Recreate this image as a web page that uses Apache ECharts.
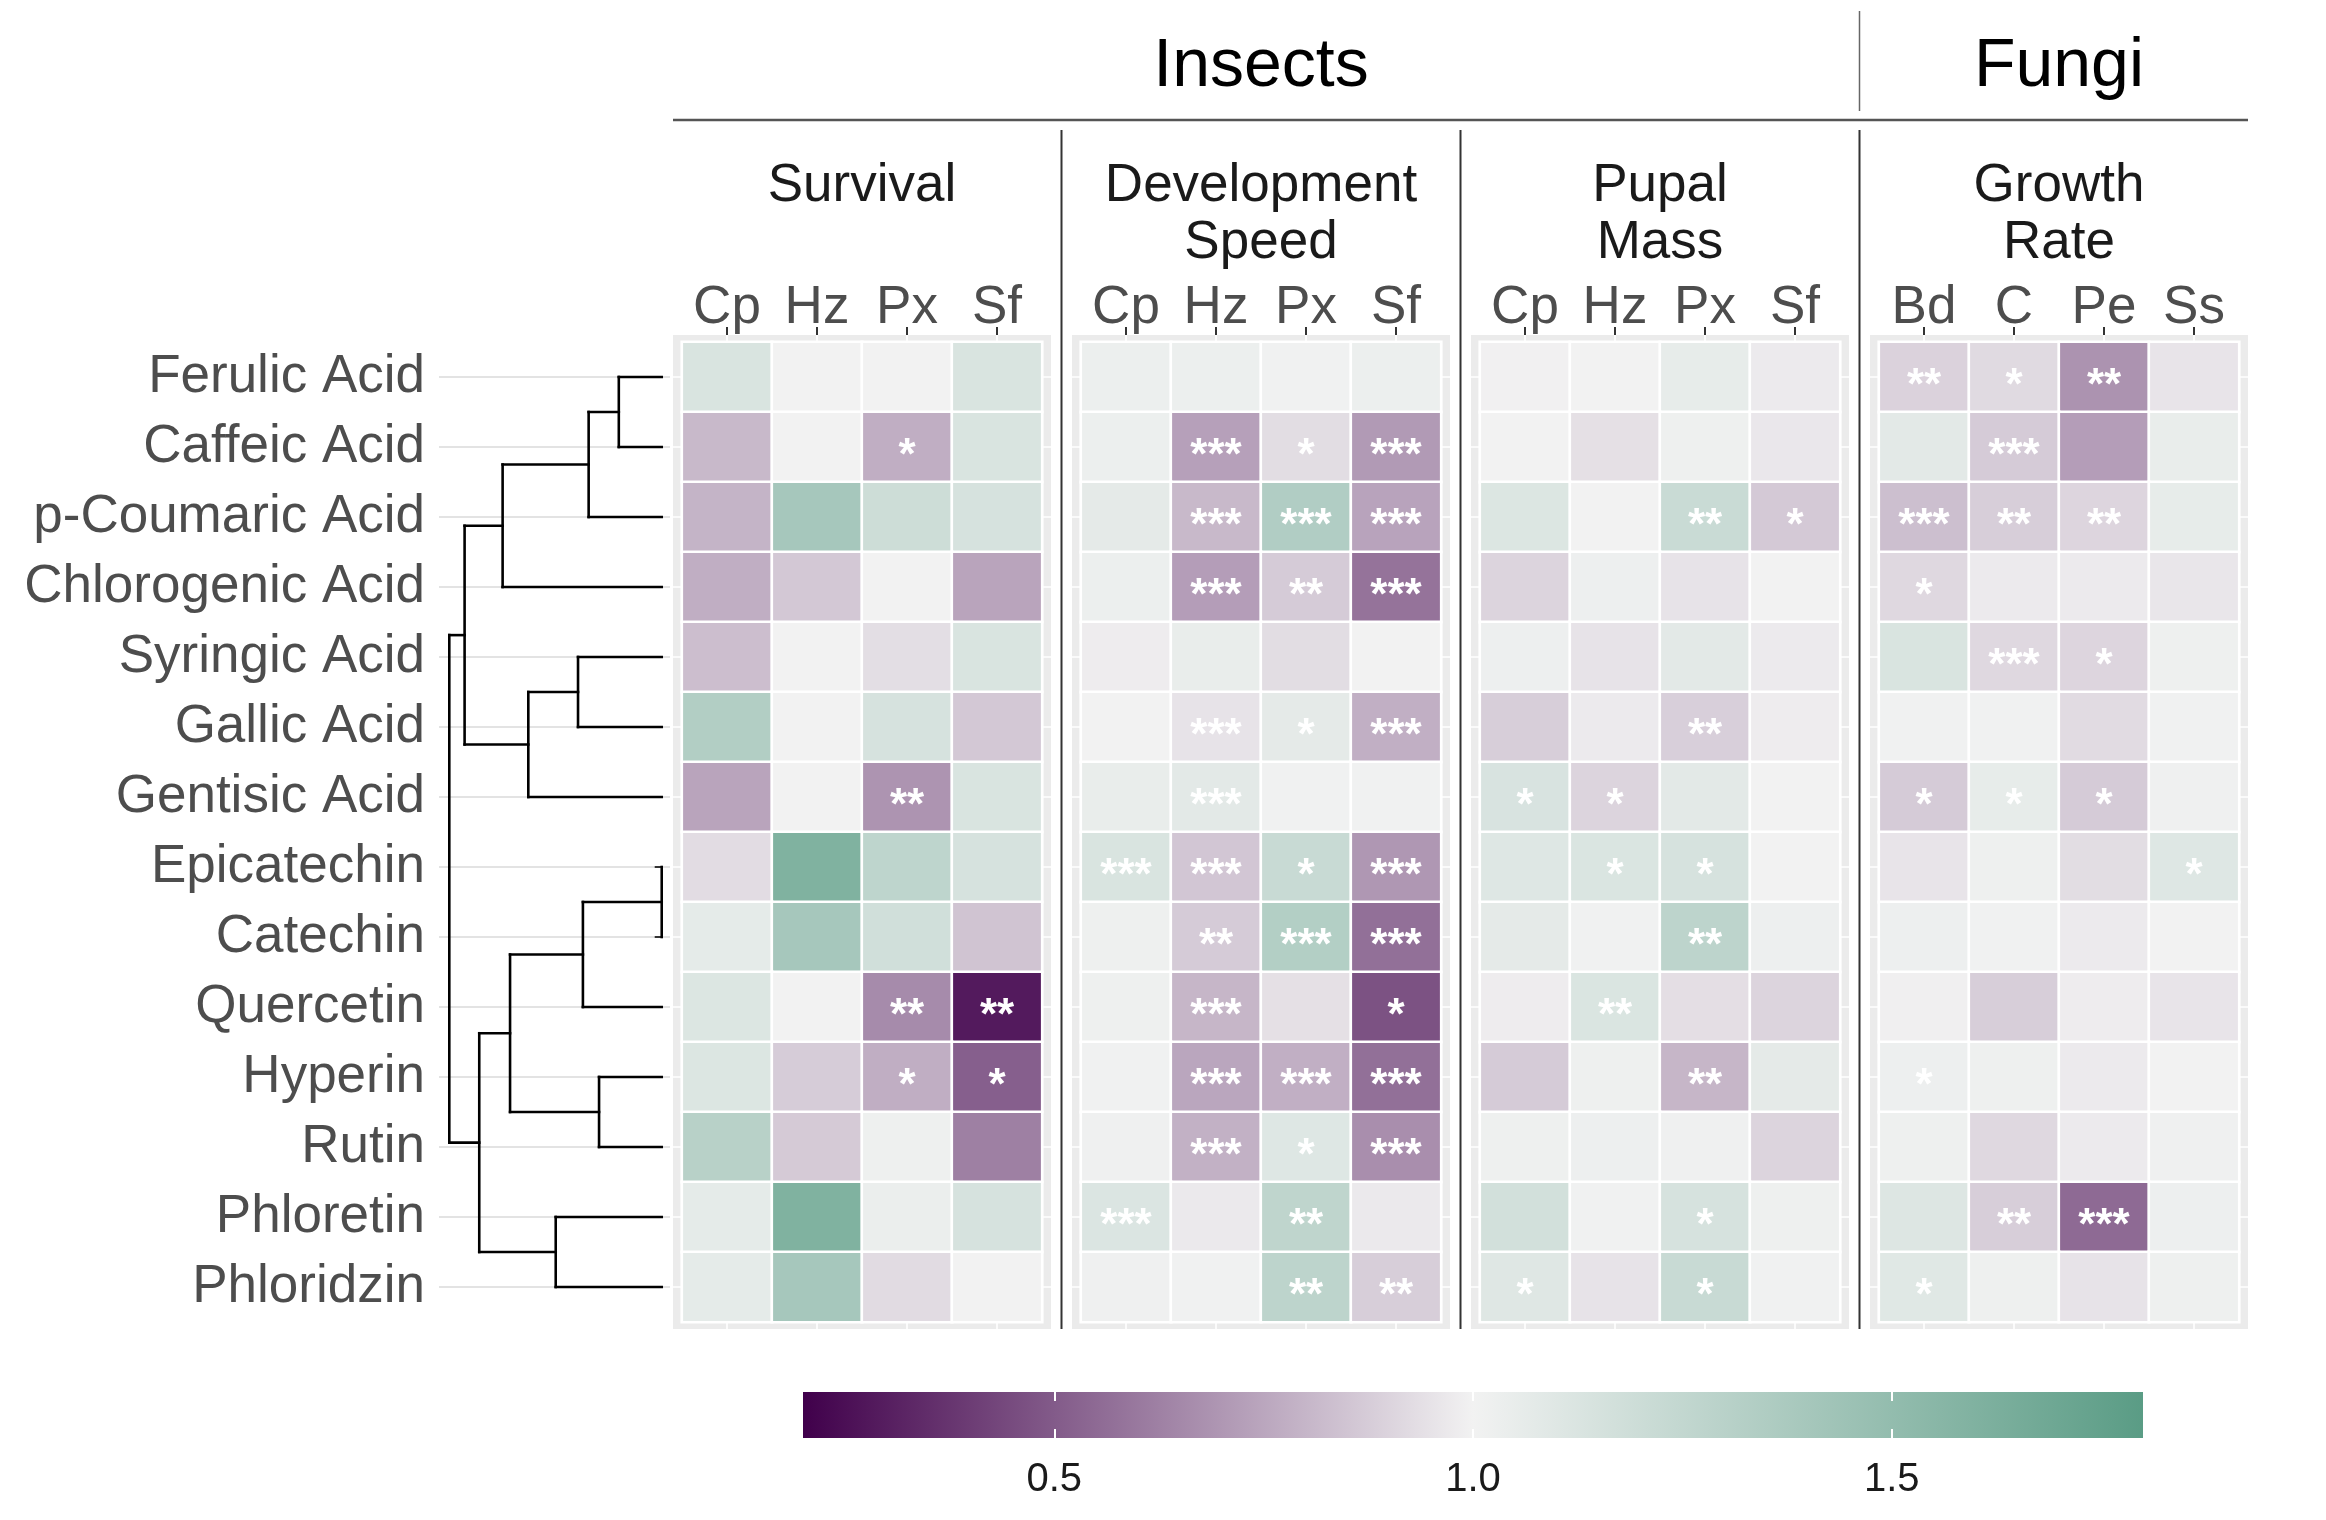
<!DOCTYPE html>
<html><head><meta charset="utf-8">
<script src="https://cdn.jsdelivr.net/npm/echarts@6/dist/echarts.min.js"></script>
<style>html,body{margin:0;padding:0;background:#fff}#c{width:2326px;height:1520px}</style>
</head><body><div id="c"></div>
<script>
// ---------------- DATA ----------------
const compounds = ['Ferulic Acid','Caffeic Acid','p-Coumaric Acid','Chlorogenic Acid','Syringic Acid','Gallic Acid','Gentisic Acid','Epicatechin','Catechin','Quercetin','Hyperin','Rutin','Phloretin','Phloridzin'];
const groupTitles = ['Insects','Fungi'];
const panelTitles = [['Survival'],['Development','Speed'],['Pupal','Mass'],['Growth','Rate']];
const insectSpecies = ['Cp','Hz','Px','Sf'];
const fungiSpecies = ['Bd','C','Pe','Ss'];
const colorbarTicks = [0.5, 1.0, 1.5];
const colorScaleMin = 0.2, colorScaleMax = 1.8;
const colorScale = ['#40004B', '#F2F2F2', '#5A9C85'];

const survival = [
  [1.13, 1.00, 1.00, 1.13],
  [0.81, 1.00, 0.775, 1.13],
  [0.795, 1.40, 1.195, 1.147],
  [0.775, 0.861, 1.00, 0.742],
  [0.828, 1.00, 0.934, 1.13],
  [1.337, 1.00, 1.147, 0.861],
  [0.742, 1.00, 0.689, 1.13],
  [0.927, 1.60, 1.274, 1.147],
  [1.068, 1.40, 1.179, 0.848],
  [1.116, 1.00, 0.659, 0.286],
  [1.116, 0.874, 0.775, 0.514],
  [1.305, 0.868, 1.02, 0.623],
  [1.068, 1.60, 1.037, 1.147],
  [1.068, 1.40, 0.924, 1.00]
];
const survivalStars = [
  ['','','',''],['','','*',''],['','','',''],['','','',''],['','','',''],['','','',''],['','','**',''],
  ['','','',''],['','','',''],['','','**','**'],['','','*','*'],['','','',''],['','','',''],['','','','']
];
const devSpeed = [
  [1.03, 1.03, 1.01, 1.03],
  [1.03, 0.73, 0.93, 0.71],
  [1.07, 0.81, 1.34, 0.74],
  [1.03, 0.72, 0.87, 0.58],
  [0.98, 1.05, 0.93, 1.00],
  [1.00, 0.95, 1.07, 0.78],
  [1.05, 1.08, 1.01, 1.01],
  [1.13, 0.855, 1.22, 0.70],
  [1.02, 0.87, 1.33, 0.57],
  [1.02, 0.80, 0.94, 0.47],
  [1.01, 0.75, 0.78, 0.57],
  [1.015, 0.785, 1.105, 0.67],
  [1.12, 0.97, 1.27, 0.97],
  [1.015, 1.01, 1.28, 0.88]
];
const devSpeedStars = [
  ['','','',''],['','***','*','***'],['','***','***','***'],['','***','**','***'],['','','',''],
  ['','***','*','***'],['','***','',''],['***','***','*','***'],['','**','***','***'],['','***','','*'],
  ['','***','***','***'],['','***','*','***'],['***','','**',''],['','','**','**']
];
const pupalMass = [
  [0.995, 1.00, 1.06, 0.975],
  [1.00, 0.94, 1.02, 0.965],
  [1.115, 1.00, 1.215, 0.865],
  [0.90, 1.025, 0.95, 1.00],
  [1.025, 0.95, 1.08, 0.975],
  [0.88, 0.975, 0.885, 0.98],
  [1.135, 0.90, 1.08, 1.00],
  [1.105, 1.125, 1.15, 1.00],
  [1.07, 1.01, 1.28, 1.025],
  [0.98, 1.125, 0.935, 0.90],
  [0.87, 1.02, 0.80, 1.07],
  [1.02, 1.025, 1.015, 0.90],
  [1.17, 1.01, 1.145, 1.02],
  [1.10, 0.95, 1.22, 1.01]
];
const pupalMassStars = [
  ['','','',''],['','','',''],['','','**','*'],['','','',''],['','','',''],['','','**',''],
  ['*','*','',''],['','*','*',''],['','','**',''],['','**','',''],['','','**',''],['','','',''],
  ['','','*',''],['*','','*','']
];
const growthRate = [
  [0.895, 0.92, 0.685, 0.955],
  [1.08, 0.87, 0.72, 1.05],
  [0.83, 0.88, 0.905, 1.06],
  [0.915, 0.975, 0.975, 0.96],
  [1.13, 0.915, 0.905, 1.02],
  [1.01, 1.01, 0.925, 1.01],
  [0.87, 1.06, 0.87, 1.015],
  [0.955, 1.02, 0.93, 1.105],
  [1.025, 1.01, 0.975, 1.00],
  [0.99, 0.88, 0.98, 0.955],
  [1.025, 1.02, 0.975, 1.00],
  [1.02, 0.915, 0.975, 1.015],
  [1.11, 0.88, 0.55, 1.025],
  [1.095, 1.02, 0.95, 1.02]
];
const growthRateStars = [
  ['**','*','**',''],['','***','',''],['***','**','**',''],['*','','',''],['','***','*',''],
  ['','','',''],['*','*','*',''],['','','','*'],['','','',''],['','','',''],['*','','',''],
  ['','','',''],['','**','***',''],['*','','','']
];
// dendrogram merges: [childA, childB, height]; leaves 0..13, merge k gets id 14+k
const dendroMerges = [
  [0, 1, 0.202],
  [14, 2, 0.344],
  [15, 3, 0.749],
  [4, 5, 0.394],
  [17, 6, 0.628],
  [16, 18, 0.928],
  [7, 8, 0.0],
  [20, 9, 0.371],
  [10, 11, 0.295],
  [21, 22, 0.714],
  [12, 13, 0.499],
  [23, 24, 0.859],
  [19, 25, 1.0]
];

// ---------------- LAYOUT ----------------
const FONT = "'Liberation Sans', Arial, Helvetica, sans-serif";
const panelLeft = [682, 1081, 1480, 1879];
const panelW = 360, cellTop = 342, cellH = 980;
const padX = 9, padY = 7;
const nRows = compounds.length, rowH = cellH / nRows, colW = panelW / 4;

const panels = [
  {cols: insectSpecies, values: survival, stars: survivalStars},
  {cols: insectSpecies, values: devSpeed, stars: devSpeedStars},
  {cols: insectSpecies, values: pupalMass, stars: pupalMassStars},
  {cols: fungiSpecies, values: growthRate, stars: growthRateStars}
];

// dendrogram segments derived from merges
const nodeH = [], nodeY = [], dendroSegs = [];
compounds.forEach((_, i) => { nodeH[i] = 0; nodeY[i] = i; });
dendroMerges.forEach(([a, b, h], k) => {
  const id = compounds.length + k;
  nodeH[id] = h; nodeY[id] = (nodeY[a] + nodeY[b]) / 2;
  dendroSegs.push([nodeH[a], nodeY[a], h, nodeY[a]]);
  dendroSegs.push([nodeH[b], nodeY[b], h, nodeY[b]]);
  dendroSegs.push([h, nodeY[a], h, nodeY[b]]);
});

const grid = [], xAxis = [], yAxis = [], series = [], graphic = [];
panels.forEach((p, pi) => {
  const L = panelLeft[pi];
  grid.push({left: L, top: cellTop, width: panelW, height: cellH});
  xAxis.push({gridIndex: pi, type: 'category', data: p.cols, position: 'top', offset: padY,
    axisLine: {show: false}, splitLine: {show: false},
    axisTick: {show: true, alignWithLabel: true, length: 8, lineStyle: {color: '#333', width: 2}},
    axisLabel: {interval: 0, fontSize: 53, color: '#4D4D4D', margin: 0, fontFamily: FONT}});
  yAxis.push({gridIndex: pi, type: 'category', data: compounds, inverse: true, show: false});
  const data = [];
  p.values.forEach((row, r) => row.forEach((v, c) => data.push([c, r, v])));
  series.push({type: 'heatmap', xAxisIndex: pi, yAxisIndex: pi, data, silent: true,
    itemStyle: {borderColor: '#fff', borderWidth: 2.7},
    label: {show: true, formatter: prm => p.stars[prm.data[1]][prm.data[0]], color: '#fff',
      fontSize: 44, fontWeight: 'bold', fontFamily: FONT, offset: [0, 10]},
    emphasis: {disabled: true}});
  // panel background + grid lines
  graphic.push({type: 'rect', z: -10, silent: true,
    shape: {x: L - padX, y: cellTop - padY, width: panelW + 2 * padX, height: cellH + 2 * padY},
    style: {fill: '#EBEBEB'}});
  for (let r = 0; r < nRows; r++) {
    const y = cellTop + rowH * (r + 0.5);
    graphic.push({type: 'line', z: -9, silent: true, shape: {x1: L - padX, y1: y, x2: L + panelW + padX, y2: y},
      style: {stroke: '#fff', lineWidth: 1.6}});
  }
  for (let c = 0; c < 4; c++) {
    const x = L + colW * (c + 0.5);
    graphic.push({type: 'line', z: -9, silent: true, shape: {x1: x, y1: cellTop - padY, x2: x, y2: cellTop + cellH + padY},
      style: {stroke: '#fff', lineWidth: 1.6}});
  }
  // panel title
  panelTitles[pi].forEach((t, li) => graphic.push({type: 'text', silent: true,
    x: L + panelW / 2, y: 186 + li * 57,
    style: {text: t, fontSize: 53, fontFamily: FONT, fill: '#1A1A1A', align: 'center', verticalAlign: 'middle'}}));
});

// separators between panels
for (let pi = 0; pi < 3; pi++) {
  const x = (panelLeft[pi] + panelW + padX + panelLeft[pi + 1] - padX) / 2;
  graphic.push({type: 'line', silent: true, shape: {x1: x, y1: 130, x2: x, y2: cellTop + cellH + padY},
    style: {stroke: '#333', lineWidth: 2}});
}
const sep3 = (panelLeft[2] + panelW + padX + panelLeft[3] - padX) / 2;
graphic.push({type: 'line', silent: true, shape: {x1: panelLeft[0] - padX, y1: 120, x2: panelLeft[3] + panelW + padX, y2: 120},
  style: {stroke: '#555', lineWidth: 2.5}});
graphic.push({type: 'line', silent: true, shape: {x1: sep3, y1: 11, x2: sep3, y2: 111},
  style: {stroke: '#666', lineWidth: 1.5}});
graphic.push({type: 'text', silent: true, x: (panelLeft[0] + panelLeft[2] + panelW) / 2, y: 67,
  style: {text: groupTitles[0], fontSize: 68, fontFamily: FONT, fill: '#000', align: 'center', verticalAlign: 'middle'}});
graphic.push({type: 'text', silent: true, x: panelLeft[3] + panelW / 2, y: 67,
  style: {text: groupTitles[1], fontSize: 68, fontFamily: FONT, fill: '#000', align: 'center', verticalAlign: 'middle'}});

// dendrogram grid (index 4)
grid.push({left: 439, width: 231, top: cellTop + rowH / 2, height: rowH * (nRows - 1)});
xAxis.push({gridIndex: 4, type: 'value', min: -0.039, max: 1.0485, inverse: true, show: false});
yAxis.push({gridIndex: 4, type: 'category', data: compounds, inverse: true, boundaryGap: false, position: 'left',
  axisLine: {show: false},
  axisTick: {show: true, interval: 0, alignWithLabel: true, length: 7, lineStyle: {color: '#333', width: 2}},
  axisLabel: {interval: 0, fontSize: 53, color: '#4D4D4D', margin: 14, padding: [9, 0, 0, 0], fontFamily: FONT},
  splitLine: {show: true, interval: 0, lineStyle: {color: '#E3E3E3', width: 2}}});
yAxis.push({gridIndex: 4, type: 'value', min: 0, max: nRows - 1, inverse: true, show: false});
series.push({type: 'custom', coordinateSystem: 'cartesian2d', xAxisIndex: 4, yAxisIndex: 5, silent: true, clip: false,
  data: dendroSegs, encode: {x: [0, 2], y: [1, 3]},
  renderItem: (params, api) => {
    const p1 = api.coord([api.value(0), api.value(1)]);
    const p2 = api.coord([api.value(2), api.value(3)]);
    return {type: 'line', shape: {x1: p1[0], y1: p1[1], x2: p2[0], y2: p2[1]},
      style: {stroke: '#000', lineWidth: 2.6, lineCap: 'square'}};
  }});

// colorbar grid (index 5): axis 0..2 so ticks counted from 0; bar spans colorScaleMin..colorScaleMax
const cbLeft = 803, cbRight = 2143, cbTop = 1392, cbH = 46;
const cbUnit = (cbRight - cbLeft) / (colorScaleMax - colorScaleMin);
grid.push({left: cbLeft - colorScaleMin * cbUnit, width: 2 * cbUnit, top: cbTop, height: cbH});
const cbFmt = v => colorbarTicks.some(t => Math.abs(t - v) < 1e-6) ? v.toFixed(1) : '';
xAxis.push({gridIndex: 5, type: 'value', min: 0, max: 2, interval: 0.5, position: 'bottom', z: 10,
  axisLine: {show: false}, splitLine: {show: false},
  axisTick: {show: true, inside: true, length: 9, lineStyle: {color: '#fff', width: 2}},
  axisLabel: {formatter: cbFmt, fontSize: 40, color: '#1A1A1A', margin: 22, fontFamily: FONT}});
xAxis.push({gridIndex: 5, type: 'value', min: 0, max: 2, interval: 0.5, position: 'top', z: 10,
  axisLine: {show: false}, splitLine: {show: false}, axisLabel: {show: false},
  axisTick: {show: true, inside: true, length: 9, lineStyle: {color: '#fff', width: 2}}});
yAxis.push({gridIndex: 5, type: 'value', min: 0, max: 1, show: false});
series.push({type: 'custom', coordinateSystem: 'cartesian2d', xAxisIndex: 5, yAxisIndex: 6, silent: true,
  data: [[colorScaleMin, colorScaleMax]],
  renderItem: (params, api) => {
    const p1 = api.coord([api.value(0), 1]);
    const p2 = api.coord([api.value(1), 0]);
    const stops = colorScale.map((c, i) => ({offset: i / (colorScale.length - 1), color: c}));
    return {type: 'rect', shape: {x: p1[0], y: p1[1], width: p2[0] - p1[0], height: p2[1] - p1[1]},
      style: {fill: new echarts.graphic.LinearGradient(0, 0, 1, 0, stops)}};
  }});

const option = {
  animation: false,
  textStyle: {fontFamily: FONT},
  grid, xAxis, yAxis, series, graphic,
  visualMap: {type: 'continuous', show: false, min: colorScaleMin, max: colorScaleMax,
    seriesIndex: [0, 1, 2, 3], dimension: 2, inRange: {color: colorScale}}
};
const chart = echarts.init(document.getElementById('c'));
chart.setOption(option);
</script></body></html>
